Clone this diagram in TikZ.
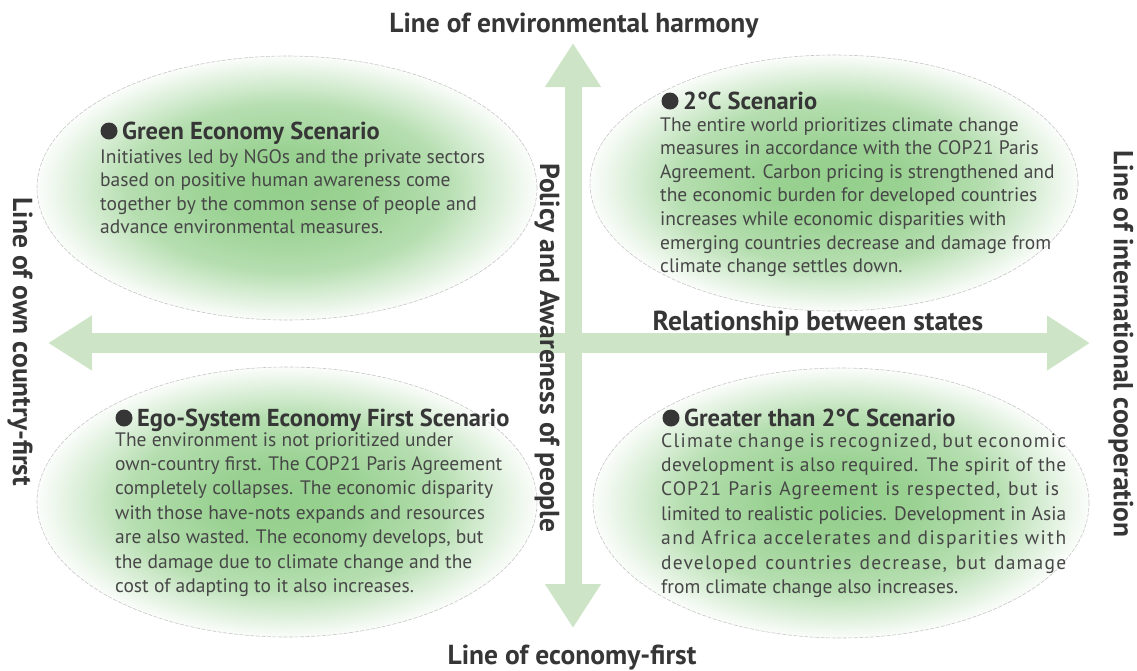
\documentclass[tikz,border=0pt]{standalone}
\usepackage{fontspec}
\setmainfont{PT Sans}
\usetikzlibrary{shapes.geometric,arrows.meta}
\definecolor{ellc}{HTML}{94CF8C}
\definecolor{arrowc}{HTML}{CDE5C6}
\definecolor{titlec}{HTML}{363636}
\definecolor{bodyc}{HTML}{474747}
\pgfdeclareradialshading{ellshade}{\pgfpoint{0bp}{0bp}}{%
  color(0bp)=(ellc); color(7bp)=(ellc!95!white); color(16bp)=(ellc!68!white);
  color(21bp)=(ellc!32!white); color(25bp)=(ellc!4!white); color(50bp)=(white)}
\tikzset{
  scen/.style={ellipse, inner sep=0pt, shading=ellshade,
    draw=black!22, dash pattern=on 4pt off 1.5pt, line width=0.6pt},
  harrow/.style={draw=arrowc, line width=20pt,
    {Triangle[width=52pt,length=44pt]}-{Triangle[width=52pt,length=43pt]}},
  varrow/.style={draw=arrowc, line width=17pt,
    {Triangle[width=53pt,length=44pt]}-{Triangle[width=53pt,length=44pt]}},
  axlabel/.style={font=\bfseries\fontsize{27.5}{30}\selectfont, text=titlec, inner sep=0pt},
  ttl/.style={font=\bfseries\fontsize{24.5}{27}\selectfont, text=titlec, inner sep=0pt, anchor=base west},
  bul/.style={circle, fill=titlec, inner sep=0pt, minimum size=17pt},
  body/.style={font=\fontsize{19.5}{23.6}\selectfont, text=bodyc, inner sep=0pt,
    align=left, anchor=north west},
  bodyb/.style={body, font=\fontsize{19.5}{24.4}\selectfont},
}
\newcommand{\jline}[2]{\makebox[405pt][s]{\addfontfeature{LetterSpace=#1}#2}}
\begin{document}
\begin{tikzpicture}[x=1pt,y=-1pt]
\useasboundingbox (0,0) rectangle (1137,670);
% scenario ellipses
\node[scen, minimum width=500pt, minimum height=264pt] (tl) at (287,188) {};
\node[scen, minimum width=488pt, minimum height=256pt] (tr) at (834,183) {};
\node[scen, minimum width=500pt, minimum height=270pt] (bl) at (287,502) {};
\node[scen, minimum width=496pt, minimum height=270pt] (br) at (841,503) {};
% axes
\coordinate (hl) at (48,343);
\coordinate (hr) at (1090,343);
\coordinate (vt) at (573,43);
\coordinate (vb) at (573,628);
\draw[harrow] (hl) -- (hr);
\draw[varrow] (vt) -- (vb);
% axis labels
\node[axlabel, anchor=base] (top) at (574,32) {Line of environmental harmony};
\node[axlabel, anchor=base] (bot) at (572,664) {Line of economy-first};
\node[axlabel, rotate=-90] (lft) at (20,342) {Line of own country-first};
\node[axlabel, rotate=-90] (rgt) at (1121,344) {Line of international cooperation};
\node[axlabel, rotate=-90] (pol) at (547,348) {Policy and Awareness of people};
\node[axlabel, anchor=base] (rel) at (818,330) {Relationship between states};
% scenario texts
\node[bul] (d1) at (109,131) {};
\node[ttl] (t1) at (122,139) {Green Economy Scenario};
\node[body] (b1) at (100,149) {Initiatives led by NGOs and the private sectors\\
based on positive human awareness come\\
together by the common sense of people and\\
advance environmental measures.};
\node[bul] (d2) at (670,101) {};
\node[ttl] (t2) at (683,109) {2°C Scenario};
\node[body] (b2) at (660,117) {The entire world prioritizes climate change\\
measures in accordance with the COP21 Paris\\
Agreement. Carbon pricing is strengthened and\\
the economic burden for developed countries\\
increases while economic disparities with\\
emerging countries decrease and damage from\\
climate change settles down.};
\node[bul] (d3) at (124,418) {};
\node[ttl] (t3) at (137,426) {Ego-System Economy First Scenario};
\node[bodyb] (b3) at (115,432) {The environment is not prioritized under\\
own-country first. The COP21 Paris Agreement\\
completely collapses. The economic disparity\\
with those have-nots expands and resources\\
are also wasted. The economy develops, but\\
the damage due to climate change and the\\
cost of adapting to it also increases.};
\node[bul] (d4) at (671,418) {};
\node[ttl] (t4) at (684,426) {Greater than 2°C Scenario};
\node[bodyb] (b4) at (661,433) {\jline{6.6}{Climate change is recognized, but economic}\\
\jline{2.2}{development is also required. The spirit of the}\\
\makebox[398pt][s]{\addfontfeature{LetterSpace=5}COP21 Paris Agreement is respected, but is}\\
\jline{0}{limited to realistic policies. Development in Asia}\\
\jline{7.6}{and Africa accelerates and disparities with}\\
\jline{6.2}{developed countries decrease, but damage}\\
from climate change also increases.};
\end{tikzpicture}
\end{document}
